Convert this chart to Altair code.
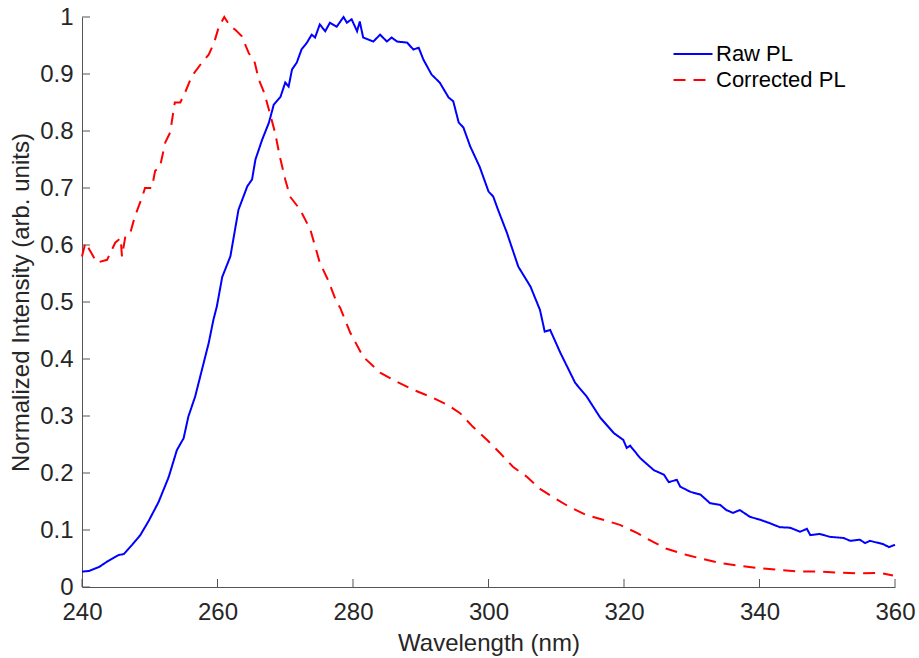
import altair as alt
import pandas as pd

# Raw PL (blue, solid)
raw_wl = [240, 241, 242.5, 243.9, 245.4, 246.2, 247.4, 248.6, 249.8, 251.3, 252.8, 254.0,
          255.0, 255.7, 256.7, 257.7, 258.7, 259.4, 259.9, 260.7, 261.9, 263.1, 264.4, 265.1,
          265.6, 266.6, 267.6, 268.3, 269.3, 270.0, 270.5, 271.0, 271.7, 272.4, 273.2, 273.9,
          274.4, 275.1, 275.9, 276.6, 277.6, 278.6, 279.1, 279.8, 280.6, 281.0, 281.5, 283.0,
          284.0, 285.0, 285.7, 286.5, 288.0, 288.9, 289.7, 290.4, 291.6, 292.8, 294.1, 294.8,
          295.6, 296.3, 297.3, 298.7, 300.0, 300.7, 301.4, 302.7, 304.4, 306.2, 307.6, 308.3,
          309.1, 310.6, 312.8, 314.5, 316.5, 318.5, 319.9, 320.4, 320.9, 322.4, 324.4, 325.9,
          326.6, 327.8, 328.3, 329.8, 331.3, 332.7, 334.2, 335.1, 336.1, 337.1, 338.6, 340.1,
          341.5, 343.0, 344.5, 346.0, 347.0, 347.5, 348.9, 350.4, 352.4, 353.4, 354.8, 355.6,
          356.3, 358.3, 359.1, 360.0]
raw_pl = [0.027, 0.028, 0.035, 0.046, 0.056, 0.058, 0.074, 0.091, 0.115, 0.149, 0.193, 0.240,
          0.261, 0.299, 0.334, 0.381, 0.428, 0.469, 0.492, 0.544, 0.580, 0.662, 0.703, 0.715,
          0.750, 0.785, 0.815, 0.846, 0.860, 0.885, 0.878, 0.908, 0.920, 0.943, 0.955, 0.969,
          0.964, 0.987, 0.975, 0.990, 0.983, 1.000, 0.990, 0.996, 0.975, 0.992, 0.964, 0.957,
          0.969, 0.957, 0.964, 0.957, 0.955, 0.943, 0.946, 0.925, 0.899, 0.885, 0.859, 0.852,
          0.815, 0.806, 0.773, 0.737, 0.694, 0.685, 0.662, 0.622, 0.562, 0.527, 0.486, 0.448,
          0.451, 0.411, 0.358, 0.334, 0.297, 0.270, 0.258, 0.244, 0.248, 0.226, 0.205, 0.197,
          0.184, 0.188, 0.176, 0.167, 0.162, 0.147, 0.144, 0.135, 0.130, 0.135, 0.123, 0.118,
          0.112, 0.105, 0.104, 0.097, 0.102, 0.091, 0.093, 0.088, 0.086, 0.081, 0.083, 0.077,
          0.081, 0.075, 0.070, 0.074]

# Corrected PL (red, dashed)
cor_wl = [240, 240.5, 242.2, 243.7, 244.9, 245.7, 245.9, 246.4, 247.1, 247.8, 248.9, 249.3,
          250.3, 250.8, 251.5, 252.3, 253.0, 253.7, 254.5, 255.2, 256.2, 257.7, 258.7, 259.5,
          260.2, 261.0, 261.9, 262.6, 263.6, 264.6, 265.5, 266.1, 266.9, 267.6, 268.5, 269.2,
          270.0, 270.7, 272.2, 273.7, 275.1, 276.3, 277.6, 278.1, 279.6, 281.5, 284.0, 286.5,
          288.9, 291.4, 293.9, 295.8, 297.7, 299.8, 301.7, 303.6, 305.7, 307.6, 309.5, 312.0,
          314.5, 316.9, 319.4, 321.9, 324.3, 326.3, 329.3, 331.7, 334.2, 337.1, 340.1, 343.0,
          346.0, 348.9, 351.9, 354.8, 357.8, 359.7]
cor_pl = [0.580, 0.604, 0.569, 0.574, 0.604, 0.612, 0.580, 0.615, 0.620, 0.650, 0.685, 0.700,
          0.700, 0.730, 0.737, 0.780, 0.797, 0.850, 0.850, 0.867, 0.896, 0.920, 0.934, 0.955,
          0.983, 1.000, 0.983, 0.978, 0.966, 0.937, 0.920, 0.890, 0.867, 0.837, 0.797, 0.755,
          0.715, 0.685, 0.662, 0.627, 0.569, 0.539, 0.499, 0.490, 0.446, 0.404, 0.376, 0.360,
          0.346, 0.334, 0.320, 0.305, 0.281, 0.258, 0.235, 0.211, 0.193, 0.172, 0.158, 0.140,
          0.126, 0.118, 0.109, 0.095, 0.079, 0.067, 0.056, 0.049, 0.042, 0.037, 0.033, 0.030,
          0.027, 0.027, 0.025, 0.024, 0.025, 0.020]

series_names = ["Raw PL", "Corrected PL"]
series_colors = ["#0000ff", "#ff0000"]
x_ticks = [240, 260, 280, 300, 320, 340, 360]
y_ticks = [0, 0.1, 0.2, 0.3, 0.4, 0.5, 0.6, 0.7, 0.8, 0.9, 1.0]

df = pd.concat([
    pd.DataFrame({"wl": raw_wl, "val": raw_pl, "series": series_names[0], "ord": range(len(raw_wl))}),
    pd.DataFrame({"wl": cor_wl, "val": cor_pl, "series": series_names[1], "ord": range(len(cor_wl))}),
])

W, H = 813, 570
FONT = "Liberation Sans"
xscale = alt.Scale(domain=[240, 360], nice=False, zero=False)
yscale = alt.Scale(domain=[0, 1], nice=False)

legend_kw = dict(title=None, orient="none", legendX=600, legendY=26,
                 symbolType="M-2,0L2,0", symbolSize=380, symbolStrokeWidth=2,
                 labelFontSize=22, labelColor="#000000", labelFont=FONT,
                 rowPadding=4, labelOffset=12)

lines = alt.Chart(df).mark_line(strokeWidth=2).encode(
    x=alt.X("wl:Q", scale=xscale, axis=alt.Axis(
        title="Wavelength (nm)", values=x_ticks, ticks=False, grid=False,
        labelFlush=False, labelPadding=13, titlePadding=7, format="d")),
    y=alt.Y("val:Q", scale=yscale, axis=alt.Axis(
        title="Normalized Intensity (arb. units)", values=y_ticks, ticks=False, grid=False,
        labelPadding=9, titlePadding=6, format="~g")),
    color=alt.Color("series:N", scale=alt.Scale(domain=series_names, range=series_colors),
                    legend=alt.Legend(**legend_kw)),
    strokeDash=alt.StrokeDash("series:N", scale=alt.Scale(domain=series_names, range=[[1, 0], [12, 8]]),
                              legend=alt.Legend(**legend_kw)),
    order="ord:Q",
)

xt = pd.DataFrame({"t": x_ticks})
yt = pd.DataFrame({"t": y_ticks})
xtick_rules = alt.Chart(xt).mark_rule(color="#555555", strokeWidth=1).encode(
    x=alt.X("t:Q", scale=xscale), y=alt.value(H), y2=alt.value(H - 8))
ytick_rules = alt.Chart(yt).mark_rule(color="#555555", strokeWidth=1).encode(
    y=alt.Y("t:Q", scale=yscale), x=alt.value(0), x2=alt.value(8))

chart = alt.layer(xtick_rules, ytick_rules, lines).properties(
    width=W, height=H,
    padding={"left": 82, "top": 17, "right": 24, "bottom": 71},
    autosize=alt.AutoSizeParams(type="none"),
).configure(background="white").configure_view(stroke=None).configure_axis(
    domainColor="#555555", domainWidth=1,
    labelFont=FONT, labelFontSize=24, labelColor="#262626",
    titleFont=FONT, titleFontSize=24, titleColor="#262626", titleFontWeight="normal",
)

chart.save("out.html", embed_options={"renderer": "svg", "actions": False})
